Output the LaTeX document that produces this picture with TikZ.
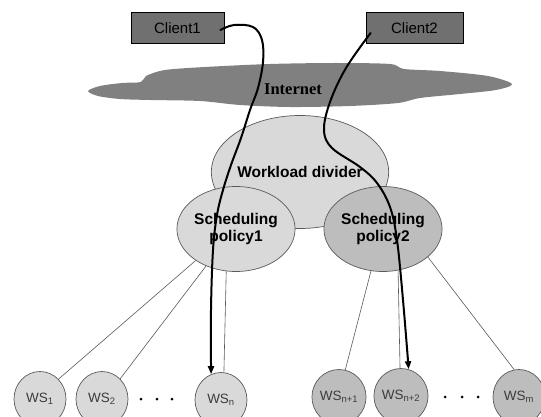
\documentclass[tikz,border=0pt]{standalone}
\usepackage{fontspec}
\setmainfont{Liberation Sans}
\newfontfamily\netfont{Liberation Serif}
\usetikzlibrary{shapes.geometric,arrows.meta}

\definecolor{clientfill}{HTML}{707070}
\definecolor{cloudfill}{HTML}{808080}
\definecolor{lightnode}{HTML}{D9D9D9}
\definecolor{darknode}{HTML}{BDBDBD}
\definecolor{edgegray}{HTML}{5A5A5A}
\definecolor{wstext}{HTML}{3C3C3C}

\tikzset{
  client/.style={draw=black, line width=0.8pt, fill=clientfill,
    minimum width=93pt, minimum height=31pt, inner sep=0pt,
    font=\fontsize{15}{18}\selectfont},
  oval/.style={ellipse, draw=edgegray, line width=0.7pt, inner sep=0pt},
  divider/.style={oval, fill=lightnode, minimum width=160pt, minimum height=113pt,
    font=\fontsize{15.5}{18}\selectfont\bfseries},
  policy/.style={oval, minimum width=112pt, minimum height=85pt, align=center,
    font=\fontsize{15.5}{17}\selectfont\bfseries},
  ws/.style={oval, minimum width=52pt, minimum height=55pt, text=wstext,
    font=\fontsize{13.5}{16}\selectfont},
  link/.style={draw=edgegray, line width=0.6pt},
  flow/.style={draw=black, line width=2pt, line cap=round,
    -{Triangle[length=8pt,width=6pt]}},
  dotmark/.style={fill=black}
}

\begin{document}
\begin{tikzpicture}[x=1pt, y=-1pt]
  \useasboundingbox (0,0) rectangle (541,417);
  \clip (0,0) rectangle (541,417);
  \fill[white] (0,0) rectangle (541,417);

  % the Internet cloud
  \fill[cloudfill] plot[smooth cycle, tension=0.5] coordinates {
    (88,91) (100,86) (122,83) (141,82) (146,76) (165,70) (205,67) (270,64)
    (335,63) (390,64) (404,69) (440,71) (488,76) (512,84) (496,90) (460,94)
    (420,98) (398,103) (350,106) (290,107) (240,105) (200,101) (150,100)
    (120,99) (98,96)};
  \node[font=\netfont\fontsize{16.5}{19}\selectfont\bfseries] (net) at (293,89) {Internet};

  % clients
  \node[client] (client1) at (177.5,28) {Client1};
  \node[client, minimum width=97pt] (client2) at (414.5,28) {Client2};

  % divider and scheduling policies
  \node[divider] (divider) at (300,172) {Workload divider};
  \node[policy, fill=lightnode] (p1) at (236,229) {Scheduling\\policy1};
  \node[policy, fill=darknode] (p2) at (383,229) {Scheduling\\policy2};

  % web servers
  \node[ws, fill=lightnode] (ws1)  at (40,399)  {WS\textsubscript{1}};
  \node[ws, fill=lightnode] (ws2)  at (102,399) {WS\textsubscript{2}};
  \node[ws, fill=lightnode] (wsn)  at (221,400) {WS\textsubscript{n}};
  \node[ws, fill=darknode]  (wsn1) at (339,397) {WS\textsubscript{n+1}};
  \node[ws, fill=darknode]  (wsn2) at (401,396) {WS\textsubscript{n+2}};
  \node[ws, fill=darknode]  (wsm)  at (519,397) {WS\textsubscript{m}};

  % ellipsis marks between the servers
  \foreach \x in {141,157,172} \fill[dotmark] (\x,399) circle (1.5);
  \foreach \x in {445,462,478} \fill[dotmark] (\x,397) circle (1.5);

  % policy to server links
  \draw[link] (p1.218) -- (ws1.47);
  \draw[link] (p1.231) -- (ws2.48);
  \draw[link] (p1.257) -- (wsn.84);
  \draw[link] (p2.254) -- (wsn1.77);
  \draw[link] (p2.290) -- (wsn2.92);
  \draw[link] (p2.328) -- (wsm.100);

  % request paths from the clients
  \coordinate (c1s) at ([shift={(-4,2)}]client1.east);
  \coordinate (c2s) at ([shift={(5,5)}]client2.west);
  \draw[flow] plot[smooth, tension=0.6] coordinates {
    (c1s) (234,25) (253,27) (262,40) (263,62) (258,88) (250,110) (241,138)
    (231,165) (223,190) (217,215) (213,250) (211,310) (wsn.111)};
  \draw[flow] plot[smooth, tension=0.6] coordinates {
    (c2s) (346,68) (330,102) (324,130) (332,148) (360,167) (377,183)
    (390,207) (397,240) (403,300) (wsn2.74)};
\end{tikzpicture}
\end{document}
